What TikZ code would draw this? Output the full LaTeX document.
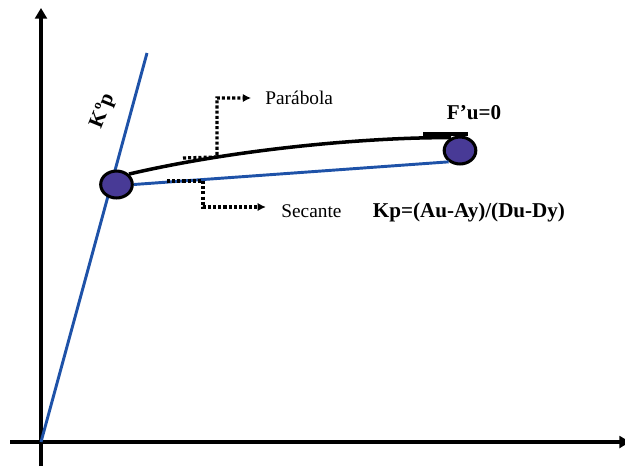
\documentclass[tikz,border=0pt]{standalone}
\usepackage{fontspec}
\setmainfont{Liberation Serif}
\usetikzlibrary{arrows.meta,shapes.geometric}

\begin{document}
\begin{tikzpicture}[
  x=0.03cm, y=-0.03cm,
  axis/.style={line width=3.8pt, -{Triangle[length=9pt, width=10pt]}},
  stiff/.style={line width=2.5pt, draw=kblue},
  curve/.style={line width=3pt, draw=black},
  knot/.style={ellipse, draw=black, line width=2.6pt, fill=kpurple, minimum width=27pt, minimum height=23pt, inner sep=0pt},
  dots/.style={line width=2.8pt, dash pattern=on 2.6pt off 1.8pt, -{Latex[length=7pt, width=7pt]}},
  lbl/.style={font=\fontsize{16.5}{19}\selectfont, inner sep=1pt},
  blbl/.style={font=\fontsize{18}{21}\selectfont\bfseries, inner sep=1pt}
]
\definecolor{kblue}{RGB}{30,82,168}
\definecolor{kpurple}{RGB}{72,58,150}

\useasboundingbox (0,0) rectangle (625,466);

% axes
\coordinate (o) at (41,442);
\coordinate (ktop) at (147,53);
\draw[axis] (41,466) -- (41,8);
\draw[axis] (10,442) -- (630,442);

% initial stiffness
\draw[stiff] (o) -- (ktop);
\node[blbl, rotate=68] (kop) at (103,111) {Kºp};

% yield points
\node[knot] (start) at (116.5,184.5) {};
\node[knot] (peak) at (460,150.5) {};

% secant and parabola
\draw[stiff] (start.east) -- (peak.225);
\draw[curve] (start.40) .. controls (245,147) and (380,137) .. (peak.125);
\draw[line width=3.4pt] (423,134) -- (468,134);

% labels
\node[lbl, anchor=west] (par) at (264,98) {Parábola};
\node[lbl, anchor=west] (sec) at (280,211) {Secante};
\node[blbl] (fu) at (474,113) {F’u=0};
\node[blbl] (kp) at (469,212) {Kp=(Au-Ay)/(Du-Dy)};

\draw[dots, shorten >=11pt] (183,158) -- (217,157) |- (par.west);
\draw[dots, shorten >=12pt] (167,181) -- (203,181) |- (sec.west |- 0,207);

\end{tikzpicture}
\end{document}
